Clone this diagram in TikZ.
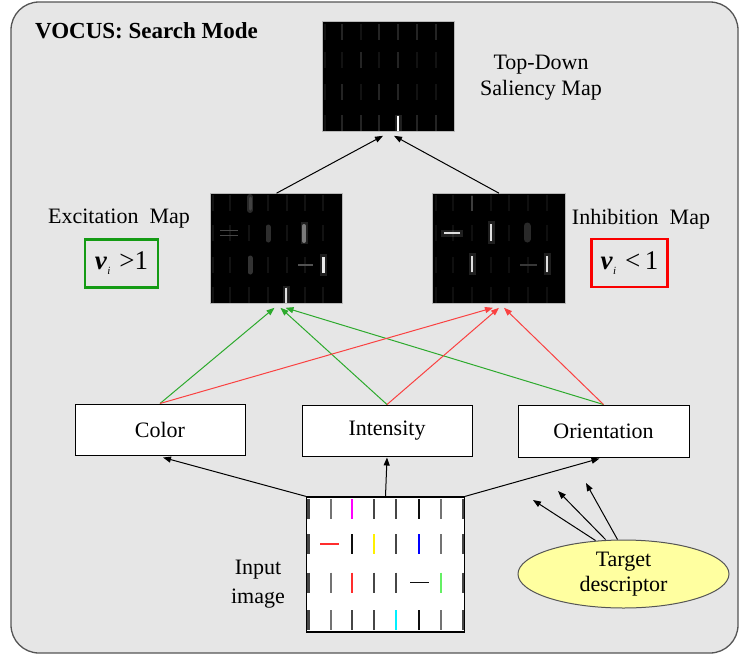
\documentclass[tikz,border=0pt]{standalone}
\usepackage{fontspec}
\setmainfont{Liberation Serif}
\usetikzlibrary{arrows.meta,shapes.geometric}

\definecolor{panel}{RGB}{230,230,230}
\definecolor{frame}{RGB}{85,85,85}
\definecolor{excline}{RGB}{45,170,45}
\definecolor{inhline}{RGB}{250,65,65}
\definecolor{boxgreen}{RGB}{20,155,20}
\definecolor{boxred}{RGB}{250,0,0}
\definecolor{targetyellow}{RGB}{255,255,160}
\definecolor{ingray}{RGB}{115,115,115}
\definecolor{indark}{RGB}{70,70,70}
\definecolor{inblack}{RGB}{15,15,15}
\definecolor{inmag}{RGB}{255,0,255}
\definecolor{inred}{RGB}{255,45,45}
\definecolor{inyellow}{RGB}{255,240,0}
\definecolor{inblue}{RGB}{0,0,255}
\definecolor{ingreen}{RGB}{100,240,100}
\definecolor{incyan}{RGB}{0,240,255}

\begin{document}
\begin{tikzpicture}[x=1pt,y=-1pt,
  lbl/.style={font=\fontsize{22}{26}\selectfont, inner sep=0pt},
  featbox/.style={draw=black, line width=1pt, fill=white, minimum width=170pt,
    minimum height=51pt, font=\fontsize{22}{26}\selectfont},
  mapimg/.style={fill=black, draw=gray!55, line width=0.6pt, inner sep=0pt,
    minimum width=132pt, minimum height=110pt},
  rulebox/.style={line width=2.6pt, minimum width=73pt, minimum height=48pt,
    inner sep=0pt, font=\fontsize{27}{29}\selectfont},
  conn/.style={line width=1pt, -{Triangle[length=8pt,width=6pt]}},
  exconn/.style={conn, color=excline},
  inconn/.style={conn, color=inhline},
  faint/.style={line width=1.6pt, draw=white!7!black},
  faintb/.style={line width=1.6pt, draw=white!14!black},
  bright/.style={line width=2.4pt, draw=white!88!black},
  glow/.style={line width=7pt, draw=white, opacity=0.12},
  inbar/.style={line width=1.6pt}]

\useasboundingbox (0,0) rectangle (739,657);

% panel
\draw[draw=frame, line width=1.3pt, fill=panel, rounded corners=28pt]
  (11,2) rectangle (738,653);
\node[anchor=west, inner sep=0pt, font=\bfseries\fontsize{23}{27}\selectfont]
  (title) at (35,31) {VOCUS: Search Mode};

% saliency maps
\node[mapimg] (tdmap) at (388,76.5) {};
\node[mapimg] (excmap) at (276.5,248.5) {};
\node[mapimg, minimum width=133pt] (inhmap) at (499,248.5) {};

% top-down map content
\foreach \x in {325,342,361,379,398,417,436}
  \foreach \y in {32,60,92,123}
    \draw[faint] (\x,\y-8) -- (\x,\y+8);
\foreach \x/\y in {342/32,379/32,398/32,417/32,436/32,361/60,398/60,
                   342/92,379/92,398/92,342/123,361/123,379/123,417/123,436/123}
  \draw[faintb] (\x,\y-8) -- (\x,\y+8);
\draw[glow] (398,115) -- (398,131);
\draw[bright, line width=2.8pt, draw=white] (398,116) -- (398,131);

% excitation map content
\foreach \x in {213,230,249,268,287,305,323}
  \foreach \y in {203,233,265,295}
    \draw[faint] (\x,\y-8) -- (\x,\y+8);
\draw[line width=6pt, draw=white!16!black, line cap=round] (250,197) -- (250,210);
\draw[line width=3pt, draw=white!26!black, line cap=round] (250,198) -- (250,209);
\draw[line width=1.6pt, draw=white!28!black] (220,230.5) -- (238,230.5);
\draw[line width=1.6pt, draw=white!28!black] (220,235.5) -- (238,235.5);
\draw[line width=5pt, draw=white!18!black, line cap=round] (268,227) -- (268,240);
\draw[glow] (304,222) -- (304,244);
\draw[line width=4pt, draw=white!48!black, line cap=round] (304,226) -- (304,241);
\draw[line width=5pt, draw=white!20!black, line cap=round] (250,258) -- (250,272);
\draw[line width=1.6pt, draw=white!32!black] (298,265) -- (313,265);
\draw[glow] (323,254) -- (323,276);
\draw[bright, line width=3pt, draw=white!92!black] (323,257) -- (323,273);
\draw[glow] (286,286) -- (286,304);
\draw[bright] (286,288) -- (286,303);

% inhibition map content
\foreach \x in {436,453,472,491,509,528,547}
  \foreach \y in {203,233,265,295}
    \draw[faint, draw=white!6!black] (\x,\y-8) -- (\x,\y+8);
\draw[line width=2pt, draw=white!24!black] (472,196) -- (472,211);
\draw[glow] (441,233) -- (463,233);
\draw[bright] (444,233) -- (460,233);
\draw[glow] (491,221) -- (491,244);
\draw[bright] (491,224) -- (491,241);
\draw[line width=7pt, draw=white!16!black, line cap=round] (527,226) -- (527,239);
\draw[glow] (472,253) -- (472,275);
\draw[bright] (472,256) -- (472,272);
\draw[line width=1.6pt, draw=white!22!black] (520,265) -- (537,265);
\draw[glow] (547,253) -- (547,275);
\draw[bright] (547,256) -- (547,272);

% map labels
\node[lbl, align=center] (tdlabel) at (541,78) {Top-Down\\Saliency Map};
\node[lbl] (exclabel) at (119,219) {Excitation~ Map};
\node[lbl] (inhlabel) at (641,219) {Inhibition~ Map};
\node[rulebox, draw=boxgreen] (excrule) at (121.5,263.5)
  {{\bfseries\itshape v}\kern0.5pt\raisebox{-5pt}{\fontsize{11}{11}\selectfont\itshape i}\hspace{9pt}>1};
\node[rulebox, draw=boxred, minimum width=76pt] (inhrule) at (629.5,263)
  {{\bfseries\itshape v}\kern0.5pt\raisebox{-5pt}{\fontsize{11}{11}\selectfont\itshape i}\hspace{9pt}<\,1};

% feature maps
\node[featbox] (color) at (160,429.5) {Color};
\node[featbox] (intensity) at (387,430.5) {Intensity};
\node[featbox, minimum width=171pt, minimum height=52pt] (orient) at (603.5,431) {Orientation};

% input image
\node[draw=black, line width=1.3pt, fill=white, minimum width=158pt,
  minimum height=135pt, inner sep=0pt] (input) at (385.5,564.5) {};
\foreach \y in {509,544,582.5,620} {
  \draw[line width=3pt, draw=indark] (308.3,\y-10) -- (308.3,\y+10);
  \draw[line width=2.6pt, draw=indark] (463,\y-10) -- (463,\y+10);
}
\foreach \x/\y/\c in {
    330.7/509/ingray, 352/509/inmag, 374/509/indark, 396/509/indark,
    418.7/509/inblack, 440.7/509/ingray,
    352/544/inblack, 374/544/inyellow, 396/544/indark, 418.7/544/inblue,
    440.7/544/ingray,
    330.7/582.5/ingray, 352/582.5/inred, 374/582.5/indark, 396/582.5/indark,
    440.7/582.5/ingreen,
    330.7/620/ingray, 352/620/indark, 374/620/indark, 396/620/incyan,
    418.7/620/inblack, 440.7/620/ingray}
  \draw[inbar, draw=\c] (\x,\y-10) -- (\x,\y+10);
\draw[inbar, draw=inred] (320,544) -- (339,544);
\draw[inbar, draw=inblack] (410,582.5) -- (429,582.5);
\node[lbl, align=center, font=\fontsize{22}{29}\selectfont] (inlabel) at (258,584) {Input\\image};

% target descriptor
\node[ellipse, draw=frame, line width=1pt, fill=targetyellow, minimum width=211pt,
  minimum height=68pt, inner sep=0pt, align=center,
  font=\fontsize{22}{25}\selectfont] (target) at (623.5,574) {Target\\descriptor};
\coordinate (t1) at (533,500);
\coordinate (t2) at (558,491);
\coordinate (t3) at (586,483);

% connectors: maps to top-down map
\draw[conn] (excmap.north) -- ([xshift=-5pt,yshift=-4pt]tdmap.south);
\draw[conn] (inhmap.north) -- ([xshift=6pt,yshift=-4pt]tdmap.south);

% connectors: feature maps to excitation / inhibition
\draw[exconn] (color.north) -- ([xshift=-2pt,yshift=-4pt]excmap.south);
\draw[exconn] (intensity.north) -- ([xshift=4pt,yshift=-4pt]excmap.south);
\draw[exconn] (orient.north) -- ([xshift=9pt,yshift=-4pt]excmap.south);
\draw[inconn] (color.north) -- ([xshift=-6pt,yshift=-4pt]inhmap.south);
\draw[inconn] (intensity.north) -- ([xshift=0pt,yshift=-4pt]inhmap.south);
\draw[inconn] (orient.north) -- ([xshift=5pt,yshift=-4pt]inhmap.south);

% connectors: input image to feature maps
\draw[conn] (input.north west) -- ([xshift=3pt,yshift=-2pt]color.south);
\draw[conn] (input.north) -- ([yshift=-1pt]intensity.south);
\draw[conn] (input.north east) -- ([xshift=-4pt,yshift=-1pt]orient.south);

% connectors: target descriptor
\draw[conn] ([xshift=-28pt,yshift=-1pt]target.north) -- (t1);
\draw[conn] ([xshift=-18pt]target.north) -- (t2);
\draw[conn] ([xshift=-6pt]target.north) -- (t3);
\end{tikzpicture}
\end{document}
